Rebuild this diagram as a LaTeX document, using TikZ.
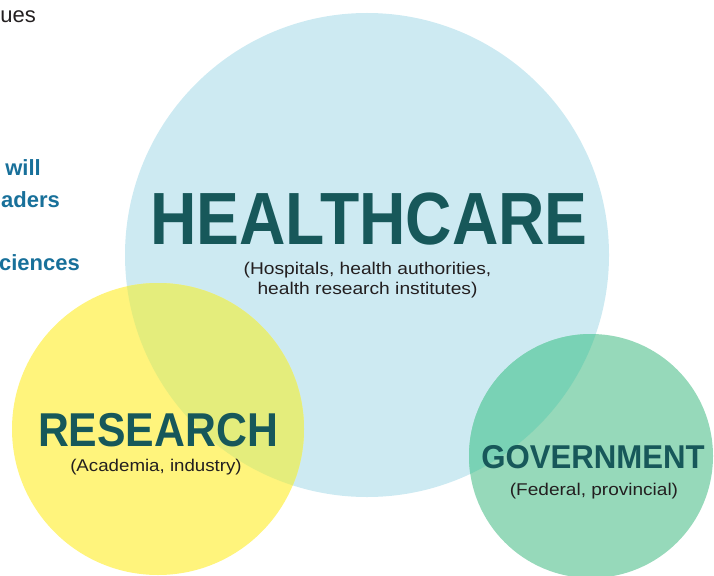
\documentclass[tikz,border=0pt]{standalone}
\usepackage{graphicx}
\usepackage{fontspec}
\setmainfont{Liberation Sans}
\definecolor{hcblue}{HTML}{CDEAF2}
\definecolor{resyellow}{HTML}{FFF47C}
\definecolor{govgreen}{HTML}{96D9BA}
\definecolor{ovby}{HTML}{E4ED7C}
\definecolor{ovbg}{HTML}{79D2B5}
\definecolor{titleteal}{HTML}{17585A}
\definecolor{sidetext}{HTML}{18709A}
\definecolor{subtext}{HTML}{231F20}
\tikzset{
  title/.style={anchor=base, inner sep=0pt, text=titleteal, font=\bfseries},
  subtitle/.style={anchor=base, inner sep=0pt, text=subtext},
  sidebold/.style={anchor=base east, inner sep=0pt, text=sidetext, font=\fontsize{22}{22}\selectfont\bfseries},
}
\newcommand{\subfont}{\fontsize{17}{17}\selectfont}
\begin{document}
\begin{tikzpicture}[x=1pt,y=-1pt]
\useasboundingbox (0,0) rectangle (714,575);
\clip (0,0) rectangle (714,575);
% circles
\fill[hcblue] (367,255) circle[radius=242pt];
\fill[resyellow] (158,429) circle[radius=146pt];
\fill[govgreen] (591,456) circle[radius=122pt];
\begin{scope}
  \clip (367,255) circle[radius=242pt];
  \fill[ovby] (158,429) circle[radius=146pt];
  \fill[ovbg] (591,456) circle[radius=122pt];
\end{scope}
% titles
\node[title] (hc) at (369,244) {\scalebox{0.868}[1]{\fontsize{74}{74}\selectfont\bfseries HEALTHCARE}};
\node[subtitle] (hcs1) at (367.5,274) {\scalebox{1.13}[1]{\subfont (Hospitals, health authorities,}};
\node[subtitle] (hcs2) at (367.5,294) {\scalebox{1.13}[1]{\subfont health research institutes)}};
\node[title] (rs) at (158,446) {\scalebox{0.90}[1]{\fontsize{47.5}{47.5}\selectfont\bfseries RESEARCH}};
\node[subtitle] (rss) at (156,471) {\scalebox{1.10}[1]{\subfont (Academia, industry)}};
\node[title] (gv) at (593,468) {\scalebox{0.945}[1]{\fontsize{33}{33}\selectfont\bfseries GOVERNMENT}};
\node[subtitle] (gvs) at (594,495) {\scalebox{1.12}[1]{\subfont (Federal, provincial)}};
% cut-off side text
\node[anchor=base east, inner sep=0pt, text=subtext, font=\fontsize{22}{22}\selectfont] (t1) at (36,23) {ues};
\node[sidebold] (t2) at (41,175) {will};
\node[sidebold] (t3) at (60,207) {aders};
\node[sidebold] (t4) at (80,270) {ciences};
\end{tikzpicture}
\end{document}
